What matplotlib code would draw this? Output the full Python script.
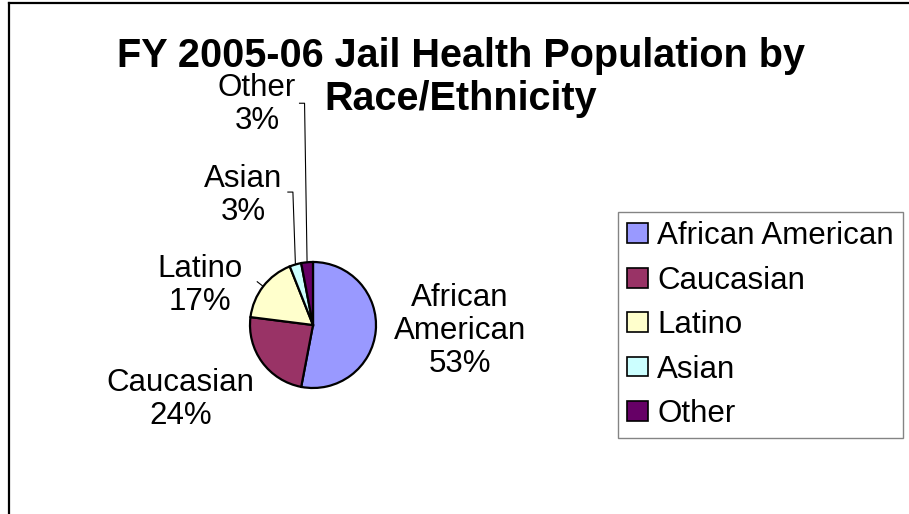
import matplotlib
matplotlib.use("Agg")
import matplotlib.pyplot as plt
import numpy as np
from matplotlib.patches import Patch
from matplotlib.lines import Line2D

plt.rcParams['font.family'] = ['Liberation Sans', 'DejaVu Sans']

# data
categories = ["African American", "Caucasian", "Latino", "Asian", "Other"]
shares = [53, 24, 17, 3, 3]
colors = ["#9999FF", "#993366", "#FFFFCC", "#CCFFFF", "#660066"]
title_lines = ["FY 2005-06 Jail Health Population by", "Race/Ethnicity"]

W, H = 909, 514
fig = plt.figure(figsize=(W / 100, H / 100), dpi=100)

# pie axes: centre (313, 325) px, radius 63 px
cx, cy, r = 313, 325, 63
ax = fig.add_axes([(cx - r) / W, (H - cy - r) / H, 2 * r / W, 2 * r / H])
wedges, _ = ax.pie(shares, colors=colors, startangle=90, counterclock=False,
                   radius=1.0, wedgeprops=dict(edgecolor="black", linewidth=1.6))
ax.set_xlim(-1, 1)
ax.set_ylim(-1, 1)
ax.set_aspect("equal")
ax.axis("off")

# label positions (pie radius units), relative to the centre
label_pos = {
    "African American": (2.33, -0.1),
    "Caucasian": (-2.10, -1.18),
    "Latino": (-1.79, 0.62),
    "Asian": (-1.11, 2.06),
    "Other": (-0.89, 3.5),
}
fs = 22.5
for name, val in zip(categories, shares):
    txt = name.replace(" ", "\n") + "\n" + f"{val}%"
    x, y = label_pos[name]
    ax.text(x, y, txt, ha="center", va="center", fontsize=fs,
            linespacing=1.13, clip_on=False)

# leader lines from wedge midpoints
def mid_point(w, rad=1.0):
    a = np.deg2rad((w.theta1 + w.theta2) / 2)
    return rad * np.cos(a), rad * np.sin(a)

for i, ytop in [(3, 2.11), (4, 3.52)]:
    ex, ey = mid_point(wedges[i])
    ax.plot([ex - 0.12, ex - 0.04, ex], [ytop, ytop, ey], color="black",
            linewidth=0.8, clip_on=False)
ex, ey = mid_point(wedges[2])
ox, oy = mid_point(wedges[2], 1.12)
ax.plot([ex, ox], [ey, oy], color="black", linewidth=0.8, clip_on=False)

# title, one text per line
for line, ypx in zip(title_lines, [56, 99]):
    fig.text(461 / W, 1 - ypx / H, line, ha="center", va="center",
             fontsize=28.5, fontweight="bold")

# legend
handles = [Patch(facecolor=c, edgecolor="black", linewidth=1.2) for c in colors]
leg = fig.legend(handles, categories, loc="upper left",
                 bbox_to_anchor=(618 / W, 1 - 212 / H), fontsize=fs,
                 frameon=True, fancybox=False, edgecolor="#666666",
                 handlelength=0.65, handleheight=0.6, handletextpad=0.3,
                 labelspacing=0.46, borderpad=0.3, borderaxespad=0)
leg.get_frame().set_linewidth(1.0)

# outer chart frame
fig.add_artist(Line2D([8.5 / W, 8.5 / W], [0, 1 - 2.5 / H], color="black",
                      linewidth=1.6, transform=fig.transFigure))
fig.add_artist(Line2D([8.5 / W, 1], [1 - 2.5 / H, 1 - 2.5 / H], color="black",
                      linewidth=1.6, transform=fig.transFigure))

fig.savefig("out.png", dpi=100)
